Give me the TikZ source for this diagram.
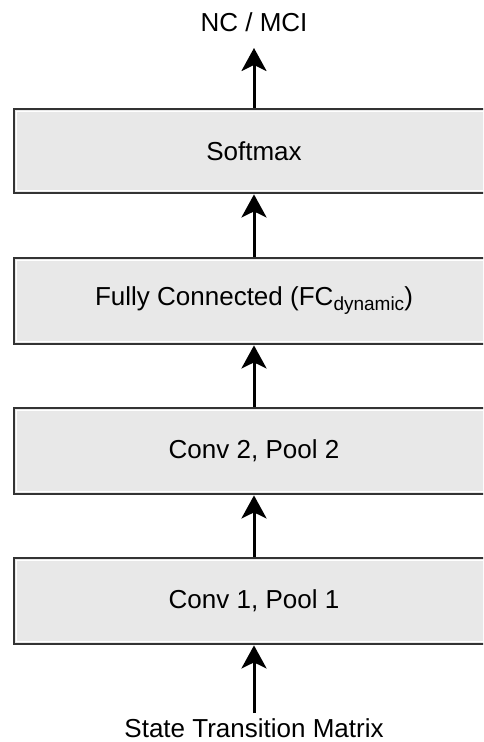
\documentclass[tikz,border=0pt]{standalone}
\usepackage{fontspec}
\setmainfont{Liberation Sans}
\usetikzlibrary{arrows.meta}
\begin{document}
\begin{tikzpicture}[x=1pt,y=-1pt,
  layerbox/.style={draw=black!80,line width=2.8pt,fill=black!9,
    minimum width=480pt,inner sep=0pt,font=\fontsize{26}{30}\selectfont,
    path picture={\draw[white,line width=1pt]
      ([xshift=2.4pt,yshift=-2.4pt]path picture bounding box.north west) rectangle
      ([xshift=-2.4pt,yshift=2.4pt]path picture bounding box.south east);}},
  flow/.style={line width=3pt,-{Stealth[length=23pt,width=25pt,inset=6pt]}},
  caption/.style={font=\fontsize{26}{30}\selectfont,inner sep=0pt}]
\useasboundingbox (0,0) rectangle (483,742);
\clip (0,0) rectangle (483,742);
\node[layerbox,minimum height=84pt] (soft) at (254,151) {Softmax};
\node[layerbox,minimum height=86pt] (fc) at (254,301)
  {Fully Connected (FC{\fontsize{19}{22}\selectfont\raisebox{-5pt}{dynamic}})};
\node[layerbox,minimum height=86pt] (conv2) at (254,451) {Conv 2, Pool 2};
\node[layerbox,minimum height=86pt] (conv1) at (254,601) {Conv 1, Pool 1};
\node[caption] (out) at (254,22) {NC / MCI};
\node[caption] (in) at (254,728) {State Transition Matrix};
\coordinate (outtip) at (254,48);
\coordinate (intail) at (254,713);
\draw[flow] (soft.north) -- (outtip);
\draw[flow] (fc.north) -- (soft.south);
\draw[flow] (conv2.north) -- (fc.south);
\draw[flow] (conv1.north) -- (conv2.south);
\draw[flow] (intail) -- (conv1.south);
\end{tikzpicture}
\end{document}
